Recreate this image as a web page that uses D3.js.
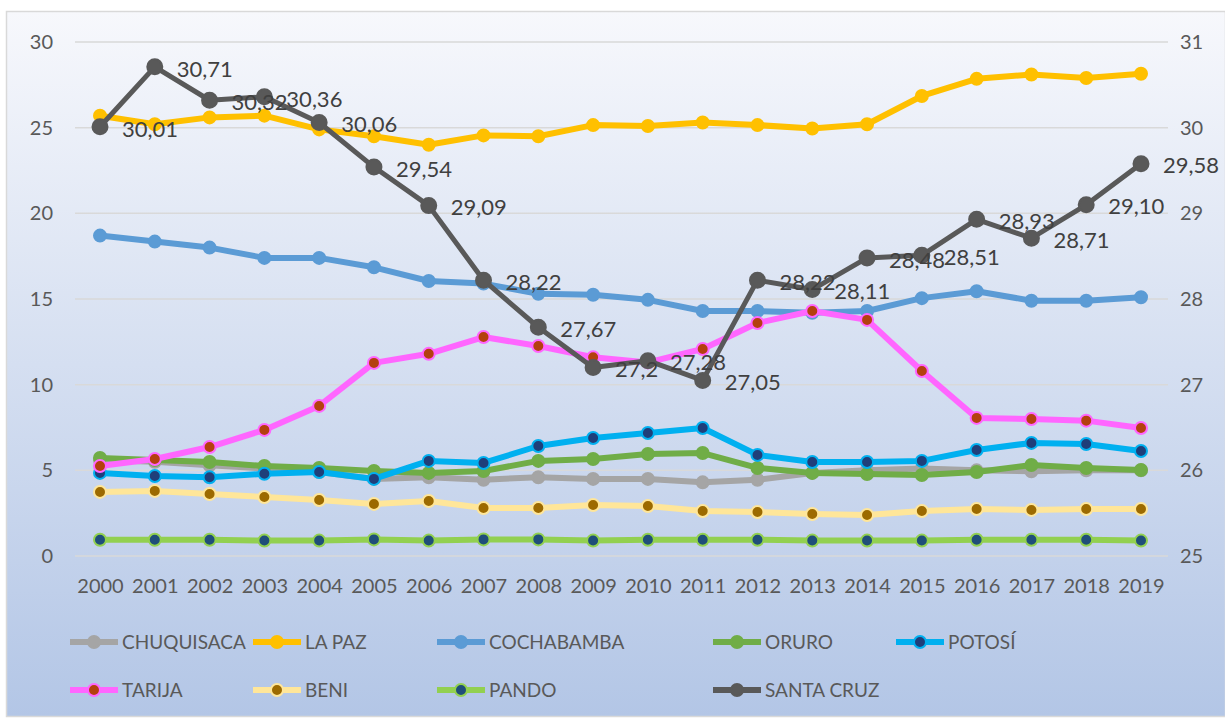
<!DOCTYPE html>
<html lang="es">
<head>
    <meta charset="utf-8">
    <title>Departamentos 2000-2019</title>
    <script src="https://cdn.jsdelivr.net/npm/d3@7"></script>
    <style>
        body { margin: 0; background: #fff; }
        svg text { font-family: Lato, "Liberation Sans", sans-serif; }
    </style>
</head>
<body>
<div id="chart"></div>
<script>
    // Data
    var years = [2000, 2001, 2002, 2003, 2004, 2005, 2006, 2007, 2008, 2009,
                 2010, 2011, 2012, 2013, 2014, 2015, 2016, 2017, 2018, 2019];

    var chuquisaca = [5.6, 5.5, 5.3, 5.1, 4.9, 4.5, 4.6, 4.45, 4.6, 4.5,
                      4.5, 4.3, 4.45, 4.85, 5.0, 5.1, 5.0, 4.95, 5.0, 5.0];
    var laPaz = [25.7, 25.2, 25.6, 25.7, 24.9, 24.5, 24.0, 24.55, 24.5, 25.15,
                 25.1, 25.3, 25.15, 24.95, 25.2, 26.85, 27.85, 28.1, 27.9, 28.15];
    var cochabamba = [18.7, 18.35, 18.0, 17.4, 17.4, 16.85, 16.05, 15.9, 15.3, 15.25,
                      14.95, 14.3, 14.3, 14.2, 14.3, 15.05, 15.45, 14.9, 14.9, 15.1];
    var oruro = [5.72, 5.6, 5.49, 5.25, 5.14, 4.96, 4.85, 4.96, 5.55, 5.66,
                 5.95, 6.01, 5.14, 4.85, 4.79, 4.73, 4.9, 5.31, 5.14, 5.02];
    var potosi = [4.85, 4.67, 4.6, 4.8, 4.9, 4.5, 5.55, 5.43, 6.42, 6.89,
                  7.18, 7.47, 5.9, 5.49, 5.49, 5.55, 6.19, 6.6, 6.54, 6.13];
    var tarija = [5.25, 5.66, 6.36, 7.36, 8.76, 11.27, 11.8, 12.78, 12.26, 11.6,
                  11.3, 12.08, 13.6, 14.3, 13.78, 10.8, 8.06, 8.0, 7.9, 7.47];
    var beni = [3.74, 3.8, 3.62, 3.44, 3.27, 3.04, 3.21, 2.8, 2.8, 2.98,
                2.92, 2.63, 2.57, 2.45, 2.39, 2.63, 2.74, 2.69, 2.74, 2.74];
    var pando = [0.95, 0.95, 0.95, 0.9, 0.9, 0.97, 0.9, 0.97, 0.97, 0.9,
                 0.95, 0.95, 0.95, 0.9, 0.9, 0.9, 0.95, 0.95, 0.95, 0.9];
    // Santa Cruz is plotted on the secondary (right) axis
    var santaCruz = [30.01, 30.71, 30.32, 30.36, 30.06, 29.54, 29.09, 28.22, 27.67, 27.2,
                     27.28, 27.05, 28.22, 28.11, 28.48, 28.51, 28.93, 28.71, 29.10, 29.58];
    // data labels exactly as printed on the chart
    var santaCruzLabels = ["30,01", "30,71", "30,32", "30,36", "30,06", "29,54", "29,09", "28,22", "27,67", "27,2",
                           "27,28", "27,05", "28,22", "28,11", "28,48", "28,51", "28,93", "28,71", "29,10", "29,58"];

    var leftTicks = [0, 5, 10, 15, 20, 25, 30];
    var rightTicks = [25, 26, 27, 28, 29, 30, 31];

    // series: name, values, line colour, marker fill, axis
    var series = [
        {name: "CHUQUISACA", values: chuquisaca, color: "#a5a5a5", marker: "#a5a5a5", axis: "left"},
        {name: "LA PAZ", values: laPaz, color: "#ffc000", marker: "#ffc000", axis: "left"},
        {name: "COCHABAMBA", values: cochabamba, color: "#5b9bd5", marker: "#5b9bd5", axis: "left"},
        {name: "ORURO", values: oruro, color: "#70ad47", marker: "#70ad47", axis: "left"},
        {name: "POTOSÍ", values: potosi, color: "#00b0f0", marker: "#1f3f7a", axis: "left"},
        {name: "TARIJA", values: tarija, color: "#ff66ff", marker: "#b4400f", axis: "left"},
        {name: "BENI", values: beni, color: "#ffe699", marker: "#9c6a00", axis: "left"},
        {name: "PANDO", values: pando, color: "#92d050", marker: "#1f4e79", axis: "left"},
        {name: "SANTA CRUZ", values: santaCruz, color: "#595959", marker: "#595959", axis: "right", labels: santaCruzLabels}
    ];

    var w = 1225;
    var h = 719;
    var plot = {left: 75, right: 1168, top: 42, bottom: 556};

    var svg = d3.select("#chart")
        .append("svg")
        .attr("width", w)
        .attr("height", h);

    // Background gradient of the chart area
    var grad = svg.append("defs")
        .append("linearGradient")
        .attr("id", "bg")
        .attr("x1", 0).attr("y1", 0).attr("x2", 0).attr("y2", 1);
    grad.append("stop").attr("offset", "0%").attr("stop-color", "#f7f8fc");
    grad.append("stop").attr("offset", "100%").attr("stop-color", "#b3c6e6");

    svg.append("rect")
        .attr("x", 6.5)
        .attr("y", 11.5)
        .attr("width", w - 6)
        .attr("height", h - 14)
        .attr("fill", "url(#bg)")
        .attr("stroke", "#d9d9d9")
        .attr("stroke-width", 1.5);

    // Scales
    var xScale = d3.scalePoint()
        .domain(years)
        .range([100, 1141]);

    var yLeft = d3.scaleLinear()
        .domain([0, 30])
        .range([plot.bottom, plot.top]);

    var yRight = d3.scaleLinear()
        .domain([25, 31])
        .range([plot.bottom, plot.top]);

    // Gridlines
    svg.append("g")
        .selectAll("line")
        .data(leftTicks)
        .enter()
        .append("line")
        .attr("x1", plot.left)
        .attr("x2", plot.right)
        .attr("y1", function (d) { return yLeft(d); })
        .attr("y2", function (d) { return yLeft(d); })
        .attr("stroke", "#d9d9d9")
        .attr("stroke-width", 1.5);

    // Axes
    var leftAxis = d3.axisLeft(yLeft).tickValues(leftTicks).tickFormat(d3.format("d")).tickSize(0).tickPadding(0);
    var rightAxis = d3.axisRight(yRight).tickValues(rightTicks).tickFormat(d3.format("d")).tickSize(0).tickPadding(0);
    var bottomAxis = d3.axisBottom(xScale).tickSize(0).tickPadding(0);

    var gl = svg.append("g")
        .attr("transform", "translate(53,0)")
        .call(leftAxis);
    var gr = svg.append("g")
        .attr("transform", "translate(1180,0)")
        .call(rightAxis);
    var gb = svg.append("g")
        .attr("transform", "translate(0,578)")
        .call(bottomAxis);

    [gl, gr, gb].forEach(function (g) {
        g.select(".domain").remove();
        g.selectAll("text")
            .attr("fill", "#595959")
            .style("font-size", "20px");
    });
    gb.selectAll("text").attr("dy", "0.75em");

    // Lines and markers
    series.forEach(function (s) {
        var y = s.axis === "right" ? yRight : yLeft;
        var line = d3.line()
            .x(function (d, i) { return xScale(years[i]); })
            .y(function (d) { return y(d); });

        var g = svg.append("g");
        g.append("path")
            .datum(s.values)
            .attr("d", line)
            .attr("fill", "none")
            .attr("stroke", s.color)
            .attr("stroke-width", s.axis === "right" ? 5 : 6)
            .attr("stroke-linejoin", "round");

        g.selectAll("circle")
            .data(s.values)
            .enter()
            .append("circle")
            .attr("cx", function (d, i) { return xScale(years[i]); })
            .attr("cy", function (d) { return y(d); })
            .attr("r", s.axis === "right" ? 7.5 : 6)
            .attr("fill", s.marker)
            .attr("stroke", s.color)
            .attr("stroke-width", 2);

        if (s.labels) {
            g.selectAll("text")
                .data(s.values)
                .enter()
                .append("text")
                .attr("x", function (d, i) { return xScale(years[i]) + 22; })
                .attr("y", function (d) { return y(d) + 2; })
                .attr("dy", "0.35em")
                .attr("fill", "#404040")
                .style("font-size", "22px")
                .text(function (d, i) { return s.labels[i]; });
        }
    });

    // Legend
    var legendCols = [70, 253, 437, 713, 896];
    var legend = svg.append("g");
    series.forEach(function (s, i) {
        var row = i < 5 ? 0 : 1;
        var col = i < 5 ? i : i - 5;
        var lx = legendCols[col];
        var ly = row === 0 ? 642 : 690;
        var item = legend.append("g").attr("transform", "translate(" + lx + "," + ly + ")");
        item.append("line")
            .attr("x1", 0).attr("x2", 48)
            .attr("stroke", s.color)
            .attr("stroke-width", 6);
        item.append("circle")
            .attr("cx", 24)
            .attr("r", 6)
            .attr("fill", s.marker)
            .attr("stroke", s.color)
            .attr("stroke-width", 2);
        item.append("text")
            .attr("x", 52)
            .attr("dy", "0.35em")
            .attr("fill", "#595959")
            .style("font-size", "19px")
            .text(s.name);
    });
</script>
</body>
</html>
